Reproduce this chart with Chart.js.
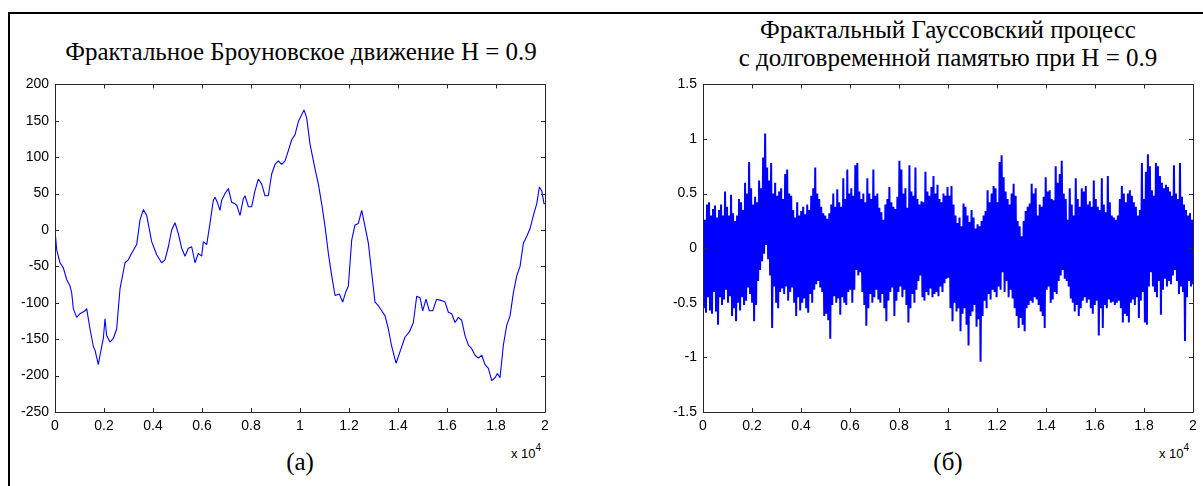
<!DOCTYPE html>
<html lang="ru">
<head>
<meta charset="utf-8">
<title>Фрактальное Броуновское движение и фрактальный Гауссовский процесс</title>
<script src="https://cdn.jsdelivr.net/npm/chart.js@4.4.1/dist/chart.umd.min.js"></script>
<style>
  html, body { margin: 0; padding: 0; background: #fff; }
  body { width: 1203px; height: 486px; position: relative; overflow: hidden; }
  .frame { position: absolute; left: 8px; top: 12px; width: 1300px; height: 600px;
           border-left: 2px solid #000; border-top: 2px solid #000; }
  .title, .caption { position: absolute; font-family: "Liberation Serif", "Times New Roman", serif;
           font-size: 25px; color: #000; text-align: center; white-space: nowrap; }
  .title { line-height: 28px; }
  .caption { line-height: 26px; }
  .exp { position: absolute; font-family: "Liberation Sans", Arial, sans-serif; font-size: 13px;
         color: #000; white-space: nowrap; }
  .exp sup { font-size: 10px; position: relative; top: -2px; }
  canvas { position: absolute; }
</style>
</head>
<body>
<div class="frame"></div>

<div class="title" style="left:0; width:602px; top:38px;">Фрактальное Броуновское движение H = 0.9</div>
<div class="title" style="left:648px; width:600px; top:16px;">Фрактальный Гауссовский процесс<br>с долговременной памятью при H = 0.9</div>

<canvas id="fbmChart" width="545" height="370" style="left:10px; top:70px;"></canvas>
<canvas id="fgnChart" width="545" height="370" style="left:658px; top:70px;"></canvas>

<div class="exp" style="left:511px; top:444px;">x 10<sup>4</sup></div>
<div class="exp" style="left:1159px; top:444px;">x 10<sup>4</sup></div>

<div class="caption" style="left:250px; width:100px; top:449px;">(a)</div>
<div class="caption" style="left:898px; width:100px; top:449px;">(б)</div>

<script>
// ---- data ----

// shared x axis: sample number 0..20000, labelled in units of 10^4
const xTickLabels = ['0', '0.2', '0.4', '0.6', '0.8', '1', '1.2', '1.4', '1.6', '1.8', '2'];

// (a) fractional Brownian motion, H = 0.9
const fbmX = [
  0, 68, 204, 340, 476, 612, 680, 748, 884, 1020,
  1225, 1293, 1429, 1565, 1633, 1769, 1837, 1973, 2041, 2109,
  2245, 2381, 2517, 2653, 2857, 2993, 3130, 3334, 3470, 3606,
  3742, 3946, 4150, 4354, 4490, 4626, 4762, 4898, 5034, 5171,
  5307, 5443, 5579, 5715, 5851, 5987, 6055, 6191, 6327, 6463,
  6531, 6626, 6735, 6803, 6939, 7075, 7212, 7348, 7416, 7552,
  7688, 7756, 7892, 8028, 8164, 8300, 8436, 8572, 8708, 8844,
  8980, 9116, 9253, 9389, 9525, 9661, 9797, 9933, 10164, 10273,
  10409, 10613, 10749, 10885, 11021, 11157, 11294, 11430, 11606, 11742,
  11879, 11974, 12110, 12246, 12382, 12518, 12654, 12790, 12926, 13062,
  13199, 13335, 13471, 13607, 13743, 13920, 14083, 14287, 14464, 14627,
  14763, 14899, 15008, 15144, 15280, 15416, 15580, 15784, 15920, 16056,
  16192, 16328, 16464, 16600, 16736, 16872, 17009, 17145, 17281, 17417,
  17553, 17689, 17825, 17961, 18057, 18165, 18301, 18437, 18573, 18710,
  18846, 18982, 19118, 19254, 19390, 19526, 19662, 19770, 19866, 19961,
  20000
];
const fbmY = [
  0, -27, -45, -52, -68, -77, -86, -108, -120, -115,
  -111, -108, -136, -160, -165, -185, -172, -149, -122, -145,
  -154, -149, -136, -81, -45, -41, -32, -20, 14, 28,
  20, -16, -34, -45, -41, -23, 0, 10, -5, -25,
  -36, -25, -23, -45, -32, -36, -16, -20, 9, 41,
  45, 38, 27, 41, 50, 57, 38, 36, 34, 20,
  43, 47, 32, 32, 54, 70, 63, 47, 47, 77,
  90, 95, 90, 95, 109, 124, 131, 149, 165, 154,
  118, 84, 63, 36, 5, -32, -63, -90, -88, -99,
  -84, -77, -14, 7, 9, 27, 5, -18, -59, -99,
  -104, -111, -118, -136, -160, -183, -167, -147, -140, -127,
  -91, -93, -111, -95, -111, -111, -95, -97, -99, -113,
  -115, -127, -120, -124, -145, -158, -163, -172, -176, -172,
  -185, -190, -207, -203, -197, -203, -158, -131, -118, -86,
  -63, -50, -18, -9, 2, 20, 36, 59, 54, 36,
  36
];
const fbmYLabels = ['-250', '-200', '-150', '-100', '-50', '0', '50', '100', '150', '200'];

// (б) fractional Gaussian noise: upper and lower swings, alternating, left to right
const fgnHigh = [
  0.32, 0.26, 0.40, 0.42, 0.30, 0.36, 0.39, 0.28, 0.35, 0.40,
  0.30, 0.52, 0.38, 0.30, 0.49, 0.32, 0.25, 0.30, 0.45, 0.42,
  0.35, 0.60, 0.50, 0.79, 0.55, 0.40, 0.47, 0.42, 0.62, 0.55,
  0.83, 1.05, 0.74, 0.62, 0.78, 0.50, 0.60, 0.48, 0.52, 0.55,
  0.45, 0.68, 0.72, 0.50, 0.48, 0.35, 0.28, 0.42, 0.30, 0.34,
  0.38, 0.31, 0.40, 0.35, 0.48, 0.55, 0.74, 0.50, 0.45, 0.38,
  0.32,
  0.30, 0.27, 0.32, 0.40, 0.50, 0.38, 0.54, 0.42, 0.38, 0.64,
  0.45, 0.72, 0.50, 0.55, 0.48, 0.76, 0.78, 0.52, 0.45, 0.50,
  0.42, 0.64, 0.50, 0.45, 0.72, 0.48, 0.50, 0.37, 0.33, 0.26,
  0.40, 0.45, 0.56, 0.42, 0.38, 0.36, 0.47, 0.80, 0.72, 0.50,
  0.55, 0.37, 0.76, 0.52, 0.48, 0.74, 0.45, 0.40, 0.43, 0.42,
  0.70, 0.52, 0.48, 0.56, 0.66, 0.50, 0.58, 0.45, 0.42, 0.50,
  0.48,
  0.56, 0.48, 0.57, 0.40, 0.30, 0.23, 0.28, 0.20, 0.41, 0.38,
  0.30, 0.24, 0.35, 0.28, 0.18, 0.22, 0.20, 0.25, 0.30, 0.34,
  0.53, 0.42, 0.50, 0.57, 0.55, 0.42, 0.79, 0.85, 0.65, 0.52,
  0.45, 0.40, 0.50, 0.59, 0.48, 0.25, 0.20, 0.11, 0.25, 0.34,
  0.38, 0.41, 0.59, 0.50, 0.55, 0.30, 0.40, 0.38, 0.47, 0.65,
  0.52, 0.53, 0.45, 0.44, 0.75, 0.60, 0.68, 0.80, 0.50, 0.45,
  0.26,
  0.55, 0.40, 0.30, 0.64, 0.45, 0.38, 0.55, 0.52, 0.57, 0.40,
  0.43, 0.38, 0.62, 0.45, 0.38, 0.35, 0.64, 0.40, 0.33, 0.66,
  0.42, 0.30, 0.28, 0.26, 0.30, 0.45, 0.57, 0.50, 0.42, 0.50,
  0.53, 0.48, 0.42, 0.38, 0.30, 0.35, 0.78, 0.45, 0.70, 0.86,
  0.75, 0.53, 0.48, 0.78, 0.75, 0.66, 0.60, 0.55, 0.58, 0.56,
  0.52, 0.48, 0.76, 0.50, 0.45, 0.78, 0.47, 0.40, 0.35, 0.30,
  0.32, 0.26
];
const fgnLow = [
  -0.55, -0.59, -0.45, -0.57, -0.60, -0.40, -0.58, -0.70, -0.45, -0.52,
  -0.47, -0.38, -0.50, -0.44, -0.62, -0.55, -0.67, -0.50, -0.57, -0.45,
  -0.52, -0.48, -0.36, -0.42, -0.50, -0.67, -0.52, -0.30, -0.20, -0.12,
  -0.05, 0.03, -0.10, -0.25, -0.73, -0.35, -0.50, -0.55, -0.40, -0.37,
  -0.42, -0.35, -0.48, -0.40, -0.36, -0.50, -0.62, -0.45, -0.57, -0.50,
  -0.46, -0.55, -0.59, -0.42, -0.50, -0.38, -0.33, -0.30, -0.36, -0.40,
  -0.62,
  -0.60, -0.66, -0.83, -0.52, -0.44, -0.50, -0.46, -0.61, -0.45, -0.50,
  -0.52, -0.40, -0.38, -0.50, -0.38, -0.20, -0.25, -0.22, -0.40, -0.52,
  -0.71, -0.55, -0.42, -0.50, -0.45, -0.38, -0.47, -0.50, -0.42, -0.55,
  -0.67, -0.48, -0.40, -0.36, -0.62, -0.48, -0.40, -0.35, -0.45, -0.38,
  -0.52, -0.68, -0.55, -0.42, -0.50, -0.38, -0.30, -0.25, -0.45, -0.48,
  -0.40, -0.43, -0.37, -0.45, -0.42, -0.40, -0.44, -0.35, -0.40, -0.32,
  -0.28,
  -0.27, -0.55, -0.67, -0.50, -0.58, -0.55, -0.76, -0.60, -0.55, -0.70,
  -0.89, -0.62, -0.58, -0.52, -0.72, -0.65, -1.04, -0.62, -0.48, -0.55,
  -0.42, -0.47, -0.38, -0.40, -0.45, -0.35, -0.38, -0.22, -0.40, -0.30,
  -0.45, -0.38, -0.46, -0.55, -0.62, -0.73, -0.64, -0.70, -0.76, -0.55,
  -0.52, -0.48, -0.50, -0.45, -0.47, -0.52, -0.58, -0.62, -0.73, -0.38,
  -0.35, -0.50, -0.47, -0.40, -0.42, -0.30, -0.25, -0.20, -0.28, -0.30,
  -0.35,
  -0.46, -0.50, -0.58, -0.52, -0.62, -0.55, -0.48, -0.45, -0.50, -0.47,
  -0.55, -0.60, -0.52, -0.48, -0.80, -0.55, -0.73, -0.52, -0.55, -0.47,
  -0.50, -0.49, -0.52, -0.50, -0.48, -0.55, -0.68, -0.60, -0.62, -0.68,
  -0.50, -0.47, -0.52, -0.45, -0.64, -0.48, -0.40, -0.68, -0.70, -0.35,
  -0.22, -0.35, -0.40, -0.45, -0.30, -0.61, -0.38, -0.28, -0.35, -0.30,
  -0.33, -0.25, -0.20, -0.30, -0.42, -0.35, -0.40, -0.85, -0.45, -0.30,
  -0.35, -0.33
];
const fgnYLabels = ['-1.5', '-1', '-0.5', '0', '0.5', '1', '1.5'];

const SAMPLES = 20000;
const LINE_BLUE = '#0000ff';
const AXIS_GREY = '#262626';

/**
 * MATLAB-like axes: closed box with short inward ticks on all four sides
 */
const matlabBox = {
    id: 'matlabBox',
    afterDraw(chart) {
        const { ctx, chartArea: a, scales } = chart;
        const len = 4;
        ctx.save();
        ctx.strokeStyle = AXIS_GREY;
        ctx.lineWidth = 1;
        ctx.beginPath();
        ctx.rect(Math.round(a.left) + 0.5, Math.round(a.top) + 0.5,
                 Math.round(a.right - a.left), Math.round(a.bottom - a.top));
        scales.x.ticks.forEach((t) => {
            const px = Math.round(scales.x.getPixelForValue(t.value)) + 0.5;
            ctx.moveTo(px, a.bottom); ctx.lineTo(px, a.bottom - len);
            ctx.moveTo(px, a.top); ctx.lineTo(px, a.top + len);
        });
        scales.y.ticks.forEach((t) => {
            const py = Math.round(scales.y.getPixelForValue(t.value)) + 0.5;
            ctx.moveTo(a.left, py); ctx.lineTo(a.left + len, py);
            ctx.moveTo(a.right, py); ctx.lineTo(a.right - len, py);
        });
        ctx.stroke();
        ctx.restore();
    }
};

function makeChart(canvasId, points, yMin, yMax, yStep, yLabels, lineWidth) {
    const tickFont = { family: '"Liberation Sans", Arial, sans-serif', size: 14 };
    return new Chart(document.getElementById(canvasId), {
        type: 'line',
        data: {
            datasets: [{
                data: points,
                borderColor: LINE_BLUE,
                borderWidth: lineWidth,
                borderJoinStyle: 'bevel',
                pointRadius: 0,
                tension: 0,
                fill: false
            }]
        },
        options: {
            responsive: false,
            animation: false,
            devicePixelRatio: 1,
            layout: { padding: { left: 0, right: 10, top: 9, bottom: 0 } },
            plugins: { legend: { display: false }, tooltip: { enabled: false } },
            scales: {
                x: {
                    type: 'linear',
                    min: 0,
                    max: SAMPLES,
                    grid: { display: false, drawTicks: false },
                    border: { display: false },
                    ticks: {
                        stepSize: 2000,
                        autoSkip: false,
                        maxRotation: 0,
                        padding: 6,
                        color: '#000',
                        font: tickFont,
                        callback: (v, i) => xTickLabels[i] ?? ''
                    },
                    afterFit(s) { s.height = 28; }
                },
                y: {
                    min: yMin,
                    max: yMax,
                    grid: { display: false, drawTicks: false },
                    border: { display: false },
                    ticks: {
                        stepSize: yStep,
                        autoSkip: false,
                        padding: 6,
                        color: '#000',
                        font: tickFont,
                        callback: (v, i) => yLabels[i] ?? ''
                    },
                    afterFit(s) { s.width = 45; }
                }
            }
        },
        plugins: [matlabBox]
    });
}

// (a) points straight from the traced arrays
const fbmPoints = fbmX.map((x, i) => ({ x: x, y: fbmY[i] }));

// (б) swings alternate high/low, evenly spaced over the samples
const fgnValues = [];
const swingCount = Math.min(fgnHigh.length, fgnLow.length);
for (let i = 0; i < swingCount; i++) {
    fgnValues.push(fgnHigh[i], fgnLow[i]);
}
const fgnPoints = fgnValues.map((v, i) => ({ x: i * SAMPLES / (fgnValues.length - 1), y: v }));

makeChart('fbmChart', fbmPoints, -250, 200, 50, fbmYLabels, 1.1);
makeChart('fgnChart', fgnPoints, -1.5, 1.5, 0.5, fgnYLabels, 2);
</script>
</body>
</html>
